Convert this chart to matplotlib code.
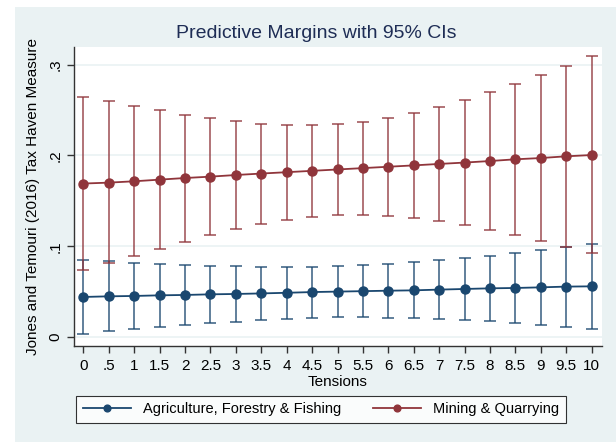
import matplotlib
matplotlib.use('Agg')
import matplotlib.pyplot as plt
from matplotlib.patches import Rectangle
import numpy as np

plt.rcParams['font.family'] = ['Liberation Sans', 'DejaVu Sans']

tension = [0, 0.5, 1, 1.5, 2, 2.5, 3, 3.5, 4, 4.5, 5, 5.5, 6, 6.5, 7, 7.5, 8, 8.5, 9, 9.5, 10]
tick_labels = ['0', '.5', '1', '1.5', '2', '2.5', '3', '3.5', '4', '4.5', '5',
               '5.5', '6', '6.5', '7', '7.5', '8', '8.5', '9', '9.5', '10']

# Agriculture, Forestry & Fishing
agri_mean = [0.0441, 0.0448, 0.0452, 0.0459, 0.0463, 0.0470, 0.0474, 0.0480, 0.0487, 0.0495, 0.0500,
             0.0505, 0.0510, 0.0514, 0.0522, 0.0529, 0.0536, 0.0540, 0.0547, 0.0555, 0.0558]
agri_hi = [0.0845, 0.0834, 0.0819, 0.0808, 0.0797, 0.0786, 0.0779, 0.0775, 0.0772, 0.0775, 0.0780,
           0.0790, 0.0805, 0.0826, 0.0845, 0.0870, 0.0892, 0.0929, 0.0958, 0.0991, 0.1029]
agri_lo = [0.0037, 0.0062, 0.0088, 0.0110, 0.0132, 0.0151, 0.0165, 0.0185, 0.0200, 0.0210, 0.0215,
           0.0215, 0.0213, 0.0209, 0.0198, 0.0187, 0.0173, 0.0154, 0.0132, 0.0114, 0.0092]

# Mining & Quarrying
mining_mean = [0.1690, 0.1700, 0.1715, 0.1733, 0.1751, 0.1766, 0.1784, 0.1800, 0.1815, 0.1830, 0.1845,
               0.1860, 0.1875, 0.1890, 0.1906, 0.1921, 0.1938, 0.1957, 0.1971, 0.1990, 0.2004]
mining_hi = [0.2640, 0.2596, 0.2544, 0.2497, 0.2449, 0.2409, 0.2376, 0.2350, 0.2335, 0.2332, 0.2342,
             0.2370, 0.2410, 0.2471, 0.2533, 0.2614, 0.2698, 0.2791, 0.2890, 0.2989, 0.3095]
mining_lo = [0.0735, 0.0820, 0.0892, 0.0973, 0.1046, 0.1123, 0.1186, 0.1245, 0.1290, 0.1320, 0.1340,
             0.1345, 0.1335, 0.1311, 0.1274, 0.1234, 0.1179, 0.1123, 0.1057, 0.0991, 0.0925]

navy = '#1A476F'
maroon = '#90353B'
bg = '#EAF2F3'

fig = plt.figure(figsize=(6.16, 4.42), dpi=100, facecolor='white')
fig.patches.append(Rectangle((15 / 616, 0), 1, 1 - 7 / 442, transform=fig.transFigure,
                             facecolor=bg, edgecolor='none', zorder=-10))
ax = fig.add_axes([74 / 616, 96 / 442, (601.7 - 74) / 616, (346 - 46.7) / 442])
ax.set_facecolor('white')

x = np.array(tension)
for mean, lo, hi, col, lab in [(agri_mean, agri_lo, agri_hi, navy, 'Agriculture, Forestry & Fishing'),
                                (mining_mean, mining_lo, mining_hi, maroon, 'Mining & Quarrying')]:
    mean = np.array(mean)
    err = [mean - np.array(lo), np.array(hi) - mean]
    ax.errorbar(x, mean, yerr=err, fmt='none', ecolor=col, elinewidth=1.3, capsize=4,
                capthick=1.3, alpha=0.75, zorder=2)
    ax.plot(x, mean, color=col, lw=1.3, marker='o', ms=6.5, label=lab, zorder=3)

ax.set_xlim(-0.184, 10.197)
ax.set_ylim(-0.0099, 0.3197)
ax.set_xticks(tension)
ax.set_xticklabels(tick_labels)
ax.set_yticks([0, 0.1, 0.2, 0.3])
ax.set_yticklabels(['0', '.1', '.2', '.3'], rotation=90, va='center')
ax.tick_params(axis='both', labelsize=11, length=5, width=1, color='#333333', labelcolor='black')
ax.tick_params(axis='x', pad=4)
ax.grid(axis='y', color=bg, lw=1.2, zorder=0)
ax.set_axisbelow(True)
for s in ['top', 'right']:
    ax.spines[s].set_visible(False)
for s in ['left', 'bottom']:
    ax.spines[s].set_color('#333333')
    ax.spines[s].set_linewidth(1.0)

ax.set_xlabel('Tensions', fontsize=11, labelpad=2)
ax.set_ylabel('Jones and Temouri (2016) Tax Haven Measure', fontsize=11, labelpad=6)
fig.text(316 / 616, 1 - 33 / 442, 'Predictive Margins with 95% CIs', fontsize=14,
         color='#1E2D55', ha='center', va='center')

leg = fig.legend(loc='center', bbox_to_anchor=(321 / 616, 1 - 409.5 / 442), ncol=2,
                 fontsize=10.5, frameon=True, fancybox=False, handlelength=3.3, columnspacing=2.2,
                 markerscale=0.75, borderpad=0.45, handletextpad=0.8)
leg.get_frame().set_edgecolor('black')
leg.get_frame().set_linewidth(0.8)

fig.savefig('out.png', dpi=100, facecolor=fig.get_facecolor())
